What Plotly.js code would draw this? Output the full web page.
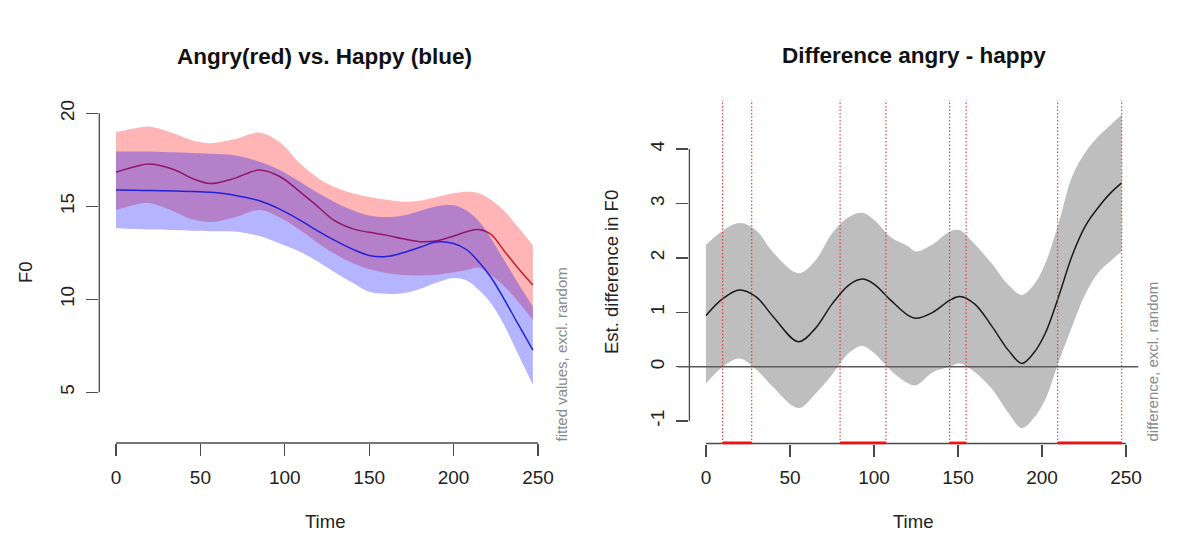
<!DOCTYPE html>
<html>
<head>
<meta charset="utf-8">
<script src="https://cdn.plot.ly/plotly-3.0.1.min.js"></script>
<style>html,body{margin:0;padding:0;background:#fff;}#chart{width:1181px;height:554px;}</style>
</head>
<body>
<div id="chart"></div>
<script>
// ---------- Left panel: fitted values ----------
const timeL = [0, 12, 20, 35, 45, 56, 70, 85, 97, 109, 120, 129, 140, 150, 160, 170, 180, 190, 200, 208, 215, 222, 230, 238, 247];
const angryFit   = [16.83, 17.15, 17.27, 16.95, 16.5, 16.22, 16.5, 16.95, 16.6, 15.78, 14.95, 14.26, 13.8, 13.6, 13.45, 13.25, 13.1, 13.15, 13.4, 13.65, 13.75, 13.5, 12.6, 11.7, 10.77];
const angryUpper = [19.0, 19.2, 19.28, 18.9, 18.55, 18.39, 18.6, 18.96, 18.45, 17.31, 16.5, 16.05, 15.7, 15.5, 15.35, 15.25, 15.3, 15.5, 15.7, 15.78, 15.7, 15.35, 14.75, 13.9, 12.9];
const angryLower = [14.8, 15.1, 15.16, 14.7, 14.3, 14.15, 14.4, 14.8, 14.4, 13.73, 13.0, 12.47, 11.95, 11.62, 11.42, 11.3, 11.28, 11.32, 11.45, 11.58, 11.7, 11.3, 10.7, 9.9, 8.89];
const happyFit   = [15.88, 15.86, 15.85, 15.82, 15.8, 15.75, 15.6, 15.3, 14.85, 14.26, 13.65, 13.19, 12.7, 12.36, 12.3, 12.5, 12.8, 13.08, 13.0, 12.65, 12.0, 11.2, 10.0, 8.7, 7.27];
const happyUpper = [17.94, 17.95, 17.95, 17.9, 17.87, 17.83, 17.75, 17.4, 16.95, 16.32, 15.7, 15.25, 14.8, 14.5, 14.42, 14.5, 14.75, 15.0, 15.05, 14.75, 14.2, 13.3, 12.1, 10.9, 9.6];
const happyLower = [13.82, 13.78, 13.75, 13.72, 13.68, 13.66, 13.64, 13.4, 13.0, 12.56, 12.0, 11.48, 10.9, 10.4, 10.3, 10.32, 10.55, 10.9, 11.15, 11.0, 10.5, 9.8, 8.6, 7.1, 5.39];

// ---------- Right panel: difference ----------
const timeR = [0, 10, 20, 30, 40, 55, 65, 75, 85, 93, 100, 110, 120, 125, 135, 145, 151, 160, 170, 180, 188, 195, 202, 210, 218, 226, 234, 241, 247.4];
const diffFit   = [0.94, 1.25, 1.41, 1.28, 0.92, 0.46, 0.7, 1.15, 1.5, 1.61, 1.52, 1.22, 0.95, 0.89, 1.0, 1.22, 1.29, 1.15, 0.75, 0.3, 0.06, 0.25, 0.62, 1.3, 2.05, 2.6, 2.95, 3.2, 3.38];
const diffUpper = [2.24, 2.5, 2.64, 2.5, 2.1, 1.72, 1.95, 2.45, 2.75, 2.83, 2.7, 2.38, 2.22, 2.12, 2.25, 2.48, 2.51, 2.25, 1.9, 1.5, 1.32, 1.5, 1.9, 2.65, 3.5, 3.95, 4.25, 4.45, 4.63];
const diffLower = [-0.31, 0.0, 0.15, -0.05, -0.38, -0.76, -0.5, -0.15, 0.25, 0.38, 0.25, -0.07, -0.3, -0.34, -0.1, 0.0, 0.06, -0.1, -0.4, -0.85, -1.13, -0.95, -0.6, 0.1, 0.75, 1.35, 1.75, 1.95, 2.12];
const sigStart = [9.9, 79.8, 145, 209.3];
const sigEnd   = [27.2, 107.1, 154.8, 247.4];

const xTicks = [0, 50, 100, 150, 200, 250];
const yTicksL = [5, 10, 15, 20];
const yTicksR = [-1, 0, 1, 2, 3, 4];

// ---------- geometry (pixels in a 1181 x 554 figure) ----------
const W = 1181, H = 554;
const px = v => v / W, py = v => 1 - v / H;
const FONT = '"Liberation Sans", Arial, Helvetica, sans-serif';
const AX = '#4a4a4a';

function band(x, lo, hi, color, xa, ya) {
  return [
    {x: x, y: lo, xaxis: xa, yaxis: ya, mode: 'lines', line: {width: 0, shape: 'spline', smoothing: 1}, hoverinfo: 'skip', showlegend: false},
    {x: x, y: hi, xaxis: xa, yaxis: ya, mode: 'lines', fill: 'tonexty', fillcolor: color, line: {width: 0, shape: 'spline', smoothing: 1}, hoverinfo: 'skip', showlegend: false}
  ];
}
function fitLine(x, y, color, xa, ya) {
  return {x: x, y: y, xaxis: xa, yaxis: ya, mode: 'lines', line: {color: color, width: 1.5, shape: 'spline', smoothing: 1}, showlegend: false};
}

const data = [].concat(
  band(timeL, angryLower, angryUpper, 'rgba(255,0,0,0.29)', 'x', 'y'),
  [fitLine(timeL, angryFit, '#c8202e', 'x', 'y')],
  band(timeL, happyLower, happyUpper, 'rgba(0,0,255,0.29)', 'x', 'y'),
  [fitLine(timeL, happyFit, '#2222d8', 'x', 'y')],
  band(timeR, diffLower, diffUpper, '#bebebe', 'x2', 'y2'),
  [fitLine(timeR, diffFit, '#1a1a1a', 'x2', 'y2')]
);

const domXL = [px(99.3), px(550.3)], domXR = [px(689.4), px(1138.3)];
const domYL = [py(443), py(100)], domYR = [py(443.5), py(100)];

const xaxisBase = {
  showgrid: false, zeroline: false, showline: false,
  ticks: 'outside', ticklen: 12, tickwidth: 1.3, tickcolor: AX,
  tickvals: xTicks, ticktext: xTicks.map(String),
  tickfont: {family: FONT, size: 19, color: '#222'},
  ticklabelstandoff: 5, fixedrange: true
};
const yaxisBase = {
  showgrid: false, zeroline: false, showline: false,
  ticks: 'outside', ticklen: 12, tickwidth: 1.3, tickcolor: AX,
  tickangle: -90,
  tickfont: {family: FONT, size: 19, color: '#222'},
  ticklabelstandoff: 5, fixedrange: true
};

const shapes = [
  // R-style axis lines spanning first to last tick
  {type: 'line', xref: 'paper', yref: 'y', x0: domXL[0], x1: domXL[0], y0: yTicksL[0], y1: yTicksL[yTicksL.length - 1], line: {color: AX, width: 1.3}},
  {type: 'line', xref: 'x', yref: 'paper', x0: xTicks[0], x1: xTicks[xTicks.length - 1], y0: domYL[0], y1: domYL[0], line: {color: AX, width: 1.3}},
  {type: 'line', xref: 'paper', yref: 'y2', x0: domXR[0], x1: domXR[0], y0: yTicksR[0], y1: yTicksR[yTicksR.length - 1], line: {color: AX, width: 1.3}},
  {type: 'line', xref: 'x2', yref: 'paper', x0: xTicks[0], x1: xTicks[xTicks.length - 1], y0: domYR[0], y1: domYR[0], line: {color: AX, width: 1.3}},
  // zero line
  {type: 'line', xref: 'paper', yref: 'y2', x0: px(677.5), x1: domXR[1], y0: 0, y1: 0, line: {color: '#5a5a5a', width: 1.6}}
];
sigStart.concat(sigEnd).forEach(t => {
  shapes.push({type: 'line', xref: 'x2', yref: 'paper', x0: t, x1: t, y0: domYR[0], y1: domYR[1], line: {color: 'rgba(235,40,40,0.95)', width: 1.1, dash: '1.5px,2px'}});
});
sigStart.forEach((s, i) => {
  shapes.push({type: 'line', xref: 'x2', yref: 'paper', x0: s, x1: sigEnd[i], y0: domYR[0] + 0.6 / H, y1: domYR[0] + 0.6 / H, line: {color: '#f01010', width: 2.6}});
});

const ann = (text, x, y, opts) => Object.assign({text: text, xref: 'paper', yref: 'paper', x: px(x), y: py(y), showarrow: false, xanchor: 'center', yanchor: 'middle', font: {family: FONT, size: 18.5, color: '#222'}}, opts || {});

const annotations = [
  ann('<b>Angry(red) vs. Happy (blue)</b>', 324, 56.5, {font: {family: FONT, size: 22.5, color: '#111'}}),
  ann('<b>Difference angry - happy</b>', 914, 55.5, {font: {family: FONT, size: 22.5, color: '#111'}}),
  ann('Time', 325, 521),
  ann('Time', 913, 521),
  ann('F0', 25, 272, {textangle: -90}),
  ann('Est. difference in F0', 611, 272, {textangle: -90}),
  ann('fitted values, excl. random', 561, 443.5, {textangle: -90, yanchor: 'bottom', font: {family: FONT, size: 15, color: '#8a8a8a'}}),
  ann('difference, excl. random', 1152, 443.5, {textangle: -90, yanchor: 'bottom', font: {family: FONT, size: 15, color: '#8a8a8a'}})
];

const layout = {
  width: W, height: H,
  margin: {l: 0, r: 0, t: 0, b: 0, pad: 0},
  paper_bgcolor: '#ffffff', plot_bgcolor: 'rgba(0,0,0,0)',
  showlegend: false,
  xaxis: Object.assign({}, xaxisBase, {domain: domXL, range: [-9.89, 257.3], anchor: 'y'}),
  yaxis: Object.assign({}, yaxisBase, {domain: domYL, range: [2.274, 20.715], tickvals: yTicksL, ticktext: yTicksL.map(String), anchor: 'x'}),
  xaxis2: Object.assign({}, xaxisBase, {domain: domXR, range: [-9.88, 257.3], anchor: 'y2'}),
  yaxis2: Object.assign({}, yaxisBase, {domain: domYR, range: [-1.412, 4.903], tickvals: yTicksR, ticktext: yTicksR.map(String), anchor: 'x2'}),
  shapes: shapes,
  annotations: annotations
};

Plotly.newPlot('chart', data, layout, {displayModeBar: false, staticPlot: true});
</script>
</body>
</html>
